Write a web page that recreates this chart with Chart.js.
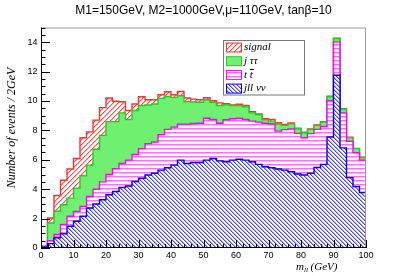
<!DOCTYPE html>
<html>
<head>
<meta charset="utf-8">
<script src="https://cdn.jsdelivr.net/npm/chart.js@4.4.1/dist/chart.umd.min.js"></script>
<style>
  html, body { margin: 0; padding: 0; background: #fff; }
  canvas { display: block; }
</style>
</head>
<body>
<canvas id="mllChart" width="407" height="276"></canvas>
<script>
// bin edges of m_ll (GeV), 2 GeV bins
const binEdges = [0, 2, 4, 6, 8, 10, 12, 14, 16, 18, 20, 22, 24, 26, 28, 30, 32, 34, 36, 38, 40,
    42, 44, 46, 48, 50, 52, 54, 56, 58, 60, 62, 64, 66, 68, 70, 72, 74, 76, 78, 80,
    82, 84, 86, 88, 90, 92, 94, 96, 98, 100];

// events per bin, one array per process (stacked bottom to top)
const jllvv = [0.05, 0.30, 0.70, 0.97, 1.48, 1.82, 2.16, 2.72, 2.99, 3.28, 3.62, 3.84, 4.12, 4.22, 4.52, 4.74, 4.97, 5.08, 5.30, 5.46,
    5.64, 5.98, 5.75, 5.82, 5.82, 5.98, 6.09, 5.93, 5.87, 5.98, 6.04, 5.98, 5.87, 5.69, 5.53, 5.46, 5.37, 5.30, 5.19, 5.03,
    4.97, 5.08, 5.48, 5.69, 7.55, 11.75, 6.81, 4.79, 4.18, 3.78];
const ttbar = [0.00, 0.20, 0.22, 0.63, 0.68, 0.67, 0.67, 0.78, 1.01, 1.22, 1.38, 1.56, 1.63, 1.76, 1.84, 2.02, 2.13, 2.13, 2.41, 2.61,
    2.58, 2.45, 2.68, 2.65, 2.67, 2.85, 2.65, 2.56, 2.85, 2.81, 2.79, 2.76, 2.76, 2.87, 2.96, 2.99, 2.58, 2.75, 2.91, 2.77,
    2.53, 2.70, 2.59, 2.58, 2.47, 2.27, 2.38, 2.47, 2.31, 2.20];
const jtautau = [0.07, 1.20, 1.58, 1.34, 1.23, 1.58, 2.09, 2.14, 2.72, 3.16, 3.60, 3.20, 3.44, 2.76, 2.99, 2.93, 2.63, 2.59, 2.47, 2.24,
    2.03, 1.93, 1.53, 1.46, 1.42, 1.26, 1.17, 1.20, 1.03, 0.90, 0.86, 0.86, 0.56, 0.50, 0.23, 0.18, 0.48, 0.29, 0.35, 0.31,
    0.34, 0.29, 0.27, 0.29, 0.27, 0.23, 0.27, 0.25, 0.27, 0.18];
const signal = [0.00, 0.34, 1.07, 1.67, 1.98, 2.02, 2.58, 2.26, 1.98, 1.89, 1.60, 1.38, 0.76, 0.61, 0.45, 0.60, 0.36, 0.29, 0.25, 0.32,
    0.18, 0.29, 0.24, 0.20, 0.18, 0.13, 0.11, 0.18, 0.07, 0.04, 0.09, 0.09, 0.09, 0.06, 0.07, 0.11, 0.09, 0.06, 0.05, 0.04,
    0.04, 0.03, 0.03, 0.04, 0.03, 0.03, 0.02, 0.02, 0.02, 0.02];

const xTicks = [0, 10, 20, 30, 40, 50, 60, 70, 80, 90, 100];
const yTicks = [0, 2, 4, 6, 8, 10, 12, 14];

// small tile patterns for the ROOT-like hatching
function makePattern(size, isOn, color, soft) {
    const c = document.createElement('canvas');
    c.width = size; c.height = size;
    const g = c.getContext('2d');
    const img = g.createImageData(size, size);
    for (let py = 0; py < size; py++) {
        for (let px = 0; px < size; px++) {
            const k = isOn(px, py);
            const col = k === 2 ? color : (k === 1 ? soft : [255, 255, 255]);
            const o = (py * size + px) * 4;
            img.data[o] = col[0]; img.data[o + 1] = col[1]; img.data[o + 2] = col[2]; img.data[o + 3] = 255;
        }
    }
    g.putImageData(img, 0, 0);
    return g.createPattern(c, 'repeat');
}
const mod = (a, n) => ((a % n) + n) % n;
const bluePat = makePattern(4, (x, y) => mod(x - y, 4) === 0 ? 2 : (mod(x - y, 4) === 1 ? 1 : 0), [70, 70, 235], [170, 170, 245]);
const pinkPat = makePattern(4, (x, y) => y === 0 ? 2 : (y === 1 ? 1 : 0), [255, 110, 255], [255, 190, 255]);
const redPat = makePattern(5, (x, y) => mod(x + y, 5) === 0 ? 2 : (mod(x + y, 5) === 1 ? 1 : 0), [255, 80, 80], [255, 180, 180]);
const greenFill = 'rgb(112, 240, 112)';

// stack the processes
function addUp(base, add) { return base.map((v, i) => v + add[i]); }
const lvlBlue = jllvv.slice();
const lvlPink = addUp(lvlBlue, ttbar);
const lvlGreen = addUp(lvlPink, jtautau);
const lvlRed = addUp(lvlGreen, signal);

function steps(levels) {
    return binEdges.map((e, i) => ({ x: e, y: levels[Math.min(i, levels.length - 1)] }));
}

function histSet(label, levels, line, fill, fillTo) {
    return {
        label: label,
        data: steps(levels),
        stepped: true,
        borderColor: line,
        borderWidth: 1.4,
        backgroundColor: fill,
        fill: fillTo,
        pointRadius: 0
    };
}

const legendRows = [
    { name: 'signal', fill: redPat, line: '#ff3030' },
    { name: 'j ττ', fill: greenFill, line: '#22cc22' },
    { name: 'tt', fill: pinkPat, line: '#ff00ff' },
    { name: 'jll νν', fill: bluePat, line: '#0000ff' }
];

const rootStyle = {
    id: 'rootStyle',
    beforeDraw(chart) {
        const ctx = chart.ctx;
        ctx.save();
        ctx.fillStyle = '#fff';
        ctx.fillRect(0, 0, chart.width, chart.height);
        ctx.restore();
    },
    afterDraw(chart) {
        const ctx = chart.ctx;
        const a = chart.chartArea;
        const x = chart.scales.x, y = chart.scales.y;
        ctx.save();

        // frame
        ctx.lineWidth = 1;
        ctx.strokeStyle = '#999';
        ctx.beginPath();
        ctx.moveTo(a.left, a.top + 0.5);
        ctx.lineTo(a.right - 0.5, a.top + 0.5);
        ctx.lineTo(a.right - 0.5, a.bottom);
        ctx.stroke();
        ctx.strokeStyle = '#000';
        ctx.beginPath();
        ctx.moveTo(a.left + 0.5, a.top);
        ctx.lineTo(a.left + 0.5, a.bottom - 0.5);
        ctx.lineTo(a.right, a.bottom - 0.5);
        ctx.stroke();

        // inward ticks
        ctx.beginPath();
        for (let v = 0; v <= 15; v += 0.5) {
            const py = Math.round(y.getPixelForValue(v)) + 0.5;
            const len = v % 2 === 0 ? 9 : 4.5;
            ctx.moveTo(a.left, py);
            ctx.lineTo(a.left + len, py);
        }
        for (let v = 0; v <= 100; v += 2) {
            const px = Math.round(x.getPixelForValue(v)) + 0.5;
            const len = v % 10 === 0 ? 8 : 4;
            ctx.moveTo(px, a.bottom);
            ctx.lineTo(px, a.bottom - len);
        }
        ctx.stroke();

        // title
        ctx.fillStyle = '#000';
        ctx.font = '12px "Liberation Sans", Arial, sans-serif';
        ctx.textAlign = 'center';
        ctx.textBaseline = 'middle';
        ctx.fillText('M1=150GeV, M2=1000GeV,\u03bc=110GeV, tan\u03b2=10', 203.5, 10.5);

        // y title
        ctx.save();
        ctx.translate(12, 128);
        ctx.rotate(-Math.PI / 2);
        ctx.font = 'italic 12px "Liberation Serif", serif';
        ctx.fillText('Number of events / 2GeV', 0, 0);
        ctx.restore();

        // x title: m_ll (GeV)
        ctx.textAlign = 'left';
        ctx.textBaseline = 'alphabetic';
        ctx.font = 'italic 11px "Liberation Serif", serif';
        ctx.fillText('m', 296, 270);
        let cx = 296 + ctx.measureText('m').width;
        ctx.font = 'italic 7px "Liberation Serif", serif';
        ctx.fillText('ll', cx, 272);
        cx += ctx.measureText('ll').width;
        ctx.font = 'italic 11px "Liberation Serif", serif';
        ctx.fillText(' (GeV)', cx, 270);

        // legend
        const lx = 223.5, ly = 40.5, lw = 81, lh = 54.5;
        ctx.fillStyle = '#fff';
        ctx.fillRect(lx, ly, lw, lh);
        ctx.strokeStyle = '#777';
        ctx.strokeRect(lx, ly, lw, lh);
        legendRows.forEach((r, i) => {
            const cy = 47.5 + i * 13.7;
            ctx.fillStyle = r.fill;
            ctx.fillRect(226.5, cy - 4.5, 15, 9);
            ctx.strokeStyle = r.line;
            ctx.strokeRect(226.5, cy - 4.5, 15, 9);
            ctx.fillStyle = '#000';
            ctx.font = 'italic 11px "Liberation Serif", serif';
            ctx.textBaseline = 'middle';
            if (r.name === 'tt') {
                ctx.fillText('t t', 244, cy);
                const w1 = ctx.measureText('t ').width;
                const w2 = ctx.measureText('t').width;
                ctx.strokeStyle = '#000';
                ctx.beginPath();
                ctx.moveTo(244 + w1, cy - 5.5);
                ctx.lineTo(244 + w1 + w2 + 1, cy - 5.5);
                ctx.stroke();
            } else {
                ctx.fillText(r.name, 244, cy);
            }
        });
        ctx.restore();
    }
};

new Chart(document.getElementById('mllChart'), {
    type: 'line',
    data: {
        datasets: [
            histSet('jll νν', lvlBlue, '#0000ff', bluePat, 'origin'),
            histSet('t t', lvlPink, '#ff00ff', pinkPat, '-1'),
            histSet('j ττ', lvlGreen, '#22cc22', greenFill, '-1'),
            histSet('signal', lvlRed, '#ff3030', redPat, '-1')
        ]
    },
    options: {
        responsive: false,
        animation: false,
        devicePixelRatio: 1,
        layout: { padding: { left: 0, right: 41, top: 27.5, bottom: 0 } },
        plugins: { legend: { display: false }, tooltip: { enabled: false } },
        scales: {
            x: {
                type: 'linear',
                min: 0,
                max: 100,
                grid: { display: false, drawTicks: false },
                border: { display: false },
                afterBuildTicks: (s) => { s.ticks = xTicks.map(v => ({ value: v })); },
                afterFit: (s) => { s.height = 28; },
                ticks: {
                    autoSkip: false,
                    maxRotation: 0,
                    padding: 2.5,
                    color: '#000',
                    font: { family: '"Liberation Sans", Arial, sans-serif', size: 9 }
                }
            },
            y: {
                min: 0,
                max: 15,
                grid: { display: false, drawTicks: false },
                border: { display: false },
                afterBuildTicks: (s) => { s.ticks = yTicks.map(v => ({ value: v })); },
                afterFit: (s) => { s.width = 41; },
                ticks: {
                    padding: 3.5,
                    color: '#000',
                    font: { family: '"Liberation Sans", Arial, sans-serif', size: 9 }
                }
            }
        }
    },
    plugins: [rootStyle]
});
</script>
</body>
</html>
